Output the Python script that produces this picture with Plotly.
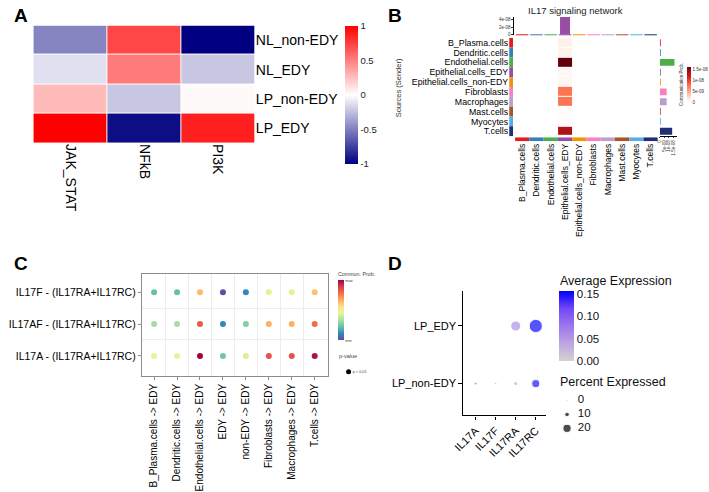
import plotly.graph_objects as go

W, H = 709, 492
def xd(a, b):
    return [a / W, b / W]
def yd(top, bot):
    return [1 - bot / H, 1 - top / H]
def px(x):
    return x / W
def py(y):
    return 1 - y / H

FONT = "Liberation Sans, Arial, Helvetica, sans-serif"

# ---------------- Panel A data ----------------
a_rows = ["NL_non-EDY", "NL_EDY", "LP_non-EDY", "LP_EDY"]
a_cols = ["JAK_STAT", "NFkB", "PI3K"]
a_nl_non_edy = [-0.48, 0.72, -1.0]
a_nl_edy = [-0.12, 0.52, -0.22]
a_lp_non_edy = [0.27, -0.22, 0.02]
a_lp_edy = [1.0, -0.95, 0.88]
a_ticks = [-1, -0.5, 0, 0.5, 1]

# ---------------- Panel B data ----------------
b_cells = ["B_Plasma.cells", "Dendritic.cells", "Endothelial.cells", "Epithelial.cells_EDY",
           "Epithelial.cells_non-EDY", "Fibroblasts", "Macrophages", "Mast.cells", "Myocytes", "T.cells"]
b_colors = ["#E41A1C", "#377EB8", "#4DAF4A", "#984EA3", "#F29403",
            "#F781BF", "#BC9DCC", "#A65628", "#54B0E4", "#222F75"]
b_target = "Epithelial.cells_EDY"
b_prob_to_target = [1.0e-09, 0.8e-09, 1.6e-08, 0.5e-09, 0.5e-09, 7.5e-09, 7.5e-09, 0.2e-09, 0.2e-09, 1.35e-08]
b_cbar_ticks = [0, 5e-09, 1e-08, 1.5e-08]
b_cbar_text = ["0", "5e-09", "1e-08", "1.5e-08"]
b_top_ticks = [0, 2e-08, 4e-08]
b_top_text = ["0", "2e-08", "4e-08"]

# ---------------- Panel C data ----------------
c_sources = ["B_Plasma.cells -> EDY", "Dendritic.cells -> EDY", "Endothelial.cells -> EDY", "EDY -> EDY",
             "non-EDY -> EDY", "Fibroblasts -> EDY", "Macrophages -> EDY", "T.cells -> EDY"]
c_pairs = ["IL17A - (IL17RA+IL17RC)", "IL17AF - (IL17RA+IL17RC)", "IL17F - (IL17RA+IL17RC)"]
c_il17a = [0.45, 0.45, 1.0, 0.24, 0.42, 0.84, 0.84, 0.97]
c_il17af = [0.33, 0.33, 0.82, 0.11, 0.27, 0.66, 0.66, 0.78]
c_il17f = [0.22, 0.22, 0.64, 0.0, 0.11, 0.47, 0.47, 0.62]

# ---------------- Panel D data ----------------
d_genes = ["IL17A", "IL17F", "IL17RA", "IL17RC"]
d_groups = ["LP_non-EDY", "LP_EDY"]
d_avg_non_edy = [0.075, 0.045, 0.035, 0.145]
d_avg_edy = [0.0, 0.0, 0.055, 0.152]
d_pct_non_edy = [5.5, 3.0, 8.0, 19.5]
d_pct_edy = [0.5, 0.5, 25.0, 34.0]
d_size_breaks = [0, 10, 20]
d_cbar_ticks = [0.0, 0.05, 0.10, 0.15]
d_cbar_text = ["0.00", "0.05", "0.10", "0.15"]

# ---------------- styles ----------------
spectral = ["#5E4FA2", "#3288BD", "#66C2A5", "#ABDDA4", "#E6F598",
            "#FEE08B", "#FDAE61", "#F46D43", "#D53E4F", "#9E0142"]
spectral_scale = [[i / (len(spectral) - 1), c] for i, c in enumerate(spectral)]
reds = [[0, "#FFFFFF"], [0.125, "#FEE0D2"], [0.25, "#FCBBA1"], [0.375, "#FC9272"], [0.5, "#FB6A4A"],
        [0.625, "#EF3B2C"], [0.75, "#CB181D"], [0.875, "#A50F15"], [1, "#67000D"]]
grey_blue = [[0, "#D3D3D3"], [0.25, "#BCA5E0"], [0.5, "#9D77EC"], [0.75, "#7248F6"], [1, "#0000FF"]]
def dsize(p):
    return 1 + 0.36 * p

fig = go.Figure()

# ===== Panel A =====
fig.add_trace(go.Heatmap(
    z=[a_nl_non_edy, a_nl_edy, a_lp_non_edy, a_lp_edy], x=a_cols, y=a_rows,
    zmin=-1, zmax=1, xgap=1, ygap=1,
    colorscale=[[0, "#000080"], [0.5, "#FFFFFF"], [1, "#FF0000"]],
    colorbar=dict(x=px(339), xanchor="left", y=py(95.5), yanchor="middle", len=139 / H,
                  thickness=13, xpad=0, ypad=0, outlinewidth=0, ticks="",
                  tickvals=a_ticks, ticktext=[str(t) for t in a_ticks],
                  tickfont=dict(size=9.5, color="#222", family=FONT)),
    xaxis="x", yaxis="y", hoverinfo="skip"))

# ===== Panel B =====
n = len(b_cells)
ti = b_cells.index(b_target)
b_z = [[(b_prob_to_target[r] if c == ti else None) for c in range(n)] for r in range(n)]
row_sums = [sum(v for v in row if v is not None) for row in b_z]
col_sums = [sum(b_z[r][c] for r in range(n) if b_z[r][c] is not None) for c in range(n)]

fig.add_trace(go.Heatmap(
    z=b_z, x=b_cells, y=b_cells, zmin=0, zmax=1.6e-08, colorscale=reds, ygap=1,
    colorbar=dict(x=px(686.5), xanchor="left", y=py(85.5), yanchor="middle", len=35 / H,
                  thickness=4, xpad=0, ypad=0, outlinewidth=0, ticks="",
                  tickvals=b_cbar_ticks, ticktext=b_cbar_text,
                  tickfont=dict(size=4.5, color="#333", family=FONT)),
    xaxis="x2", yaxis="y2", hoverinfo="skip"))
# top bars (column sums)
fig.add_trace(go.Bar(x=b_cells, y=col_sums, marker=dict(color=b_colors, line_width=0), width=0.7,
                     xaxis="x3", yaxis="y3", hoverinfo="skip"))
fig.add_trace(go.Scatter(x=b_cells, y=[0] * n, mode="markers", cliponaxis=False,
                         marker=dict(symbol="line-ew", size=9, line=dict(color=b_colors, width=1)),
                         xaxis="x3", yaxis="y3", hoverinfo="skip"))
# right bars (row sums)
fig.add_trace(go.Bar(y=b_cells, x=row_sums, orientation="h", marker=dict(color=b_colors, line_width=0),
                     width=0.7, xaxis="x4", yaxis="y4", hoverinfo="skip"))
# left colour strip
fig.add_trace(go.Bar(y=b_cells, x=[1] * n, orientation="h", marker=dict(color=b_colors, line_width=0),
                     width=1, xaxis="x5", yaxis="y5", hoverinfo="skip"))
# bottom colour strip
fig.add_trace(go.Bar(x=b_cells, y=[1] * n, marker=dict(color=b_colors, line_width=0),
                     width=1, xaxis="x6", yaxis="y6", hoverinfo="skip"))

# ===== Panel C =====
cx, cy, cv = [], [], []
for yi, vals in enumerate([c_il17a, c_il17af, c_il17f]):
    for xi, v in enumerate(vals):
        cx.append(xi)
        cy.append(yi)
        cv.append(v)
fig.add_trace(go.Scatter(
    x=cx, y=cy, mode="markers", cliponaxis=False,
    marker=dict(size=6, color=cv, cmin=0, cmax=1, colorscale=spectral_scale, showscale=True,
                colorbar=dict(x=px(332), xanchor="left", y=py(312), yanchor="middle", len=60 / H,
                              thickness=6, xpad=0, ypad=0, outlinewidth=0, ticks="",
                              tickvals=[0, 1], ticktext=["min", "max"],
                              tickfont=dict(size=4, color="#444", family=FONT))),
    xaxis="x7", yaxis="y7", hoverinfo="skip"))
# p-value legend
fig.add_trace(go.Scatter(x=[0], y=[0], mode="markers+text", text=["p < 0.01"], textposition="middle right",
                         textfont=dict(size=3.8, color="#444", family=FONT), cliponaxis=False,
                         marker=dict(size=5, color="black"), xaxis="x8", yaxis="y8", hoverinfo="skip"))

# ===== Panel D =====
dx, dy, dc, ds = [], [], [], []
for g, avgs, pcts in [(d_groups[0], d_avg_non_edy, d_pct_non_edy), (d_groups[1], d_avg_edy, d_pct_edy)]:
    for gene, a, p in zip(d_genes, avgs, pcts):
        dx.append(gene)
        dy.append(g)
        dc.append(a)
        ds.append(dsize(p))
fig.add_trace(go.Scatter(
    x=dx, y=dy, mode="markers", cliponaxis=False,
    marker=dict(size=ds, color=dc, cmin=0, cmax=0.157, colorscale=grey_blue, showscale=True,
                colorbar=dict(x=px(557), xanchor="left", y=py(328), yanchor="middle", len=70 / H,
                              thickness=15, xpad=0, ypad=0, outlinewidth=0, ticks="",
                              tickvals=d_cbar_ticks, ticktext=d_cbar_text,
                              tickfont=dict(size=11.5, color="#111", family=FONT))),
    xaxis="x9", yaxis="y9", hoverinfo="skip"))
# size legend
fig.add_trace(go.Scatter(x=[0.2] * len(d_size_breaks), y=list(range(len(d_size_breaks))), mode="markers",
                         cliponaxis=False, marker=dict(size=[dsize(b) for b in d_size_breaks], color="black"),
                         xaxis="x10", yaxis="y10", hoverinfo="skip"))
fig.add_trace(go.Scatter(x=[0.45] * len(d_size_breaks), y=list(range(len(d_size_breaks))), mode="text",
                         text=[str(b) for b in d_size_breaks], textposition="middle right", cliponaxis=False,
                         textfont=dict(size=11.5, color="#111", family=FONT),
                         xaxis="x10", yaxis="y10", hoverinfo="skip"))

hidden = dict(showgrid=False, zeroline=False, showticklabels=False, showline=False, ticks="")
cat_b = [-0.5, n - 0.5]
cat_b_rev = [n - 0.5, -0.5]

layout = dict(
    width=W, height=H, margin=dict(l=0, r=0, t=0, b=0),
    paper_bgcolor="white", plot_bgcolor="rgba(0,0,0,0)", showlegend=False,
    font=dict(family=FONT, color="black"),
    # A
    xaxis=dict(domain=xd(22.7, 247.7), anchor="y", showgrid=False, zeroline=False, ticks="",
               tickangle=90, tickfont=dict(size=14), range=[-0.5, 2.5]),
    yaxis=dict(domain=yd(25.7, 144), anchor="x", side="right", showgrid=False, zeroline=False, ticks="",
               tickfont=dict(size=14), range=[3.5, -0.5]),
    # B main
    xaxis2=dict(domain=xd(512, 657), anchor="y2", range=cat_b, **hidden),
    yaxis2=dict(domain=yd(38, 137), anchor="x2", range=cat_b_rev, **hidden),
    # B top bars
    xaxis3=dict(domain=xd(512, 657), anchor="y3", range=cat_b, **hidden),
    yaxis3=dict(domain=yd(17, 35), anchor="free", position=px(509.5), range=[0, 4.8e-08],
                showgrid=False, zeroline=False, showline=True, linewidth=0.6, linecolor="black",
                ticks="outside", ticklen=1.5, tickwidth=0.6, tickvals=b_top_ticks, ticktext=b_top_text,
                tickfont=dict(size=4.5, color="#333")),
    # B right bars
    xaxis4=dict(domain=xd(659, 677), anchor="y4", range=[0, 1.93e-08], showgrid=False, zeroline=False,
                showline=True, linewidth=0.6, linecolor="black", ticks="outside", ticklen=1.5, tickwidth=0.6,
                tickvals=b_cbar_ticks, ticktext=b_cbar_text, tickangle=-90, tickfont=dict(size=4.5, color="#333")),
    yaxis4=dict(domain=yd(38, 137), anchor="x4", range=cat_b_rev, **hidden),
    # B left strip
    xaxis5=dict(domain=xd(506, 510), anchor="y5", range=[0, 1], **hidden),
    yaxis5=dict(domain=yd(38, 137), anchor="x5", range=cat_b_rev, showgrid=False, zeroline=False, ticks="",
                tickmode="array", tickvals=b_cells, ticktext=b_cells, tickfont=dict(size=8.8)),
    # B bottom strip
    xaxis6=dict(domain=xd(512, 657), anchor="y6", range=cat_b, showgrid=False, zeroline=False, ticks="",
                tickmode="array", tickvals=b_cells, ticktext=b_cells,
                tickangle=-90, tickfont=dict(size=8.5)),
    yaxis6=dict(domain=yd(138, 142), anchor="x6", range=[0, 1], **hidden),
    # C
    xaxis7=dict(domain=xd(133, 322), anchor="y7", range=[-0.53, 7.58], showgrid=False, zeroline=False,
                showline=True, mirror=True, linecolor="#8c8c8c", linewidth=1.3,
                ticks="outside", ticklen=3, tickcolor="#8c8c8c", tickwidth=0.8,
                tickvals=list(range(len(c_sources))), ticktext=c_sources, tickangle=-90,
                tickfont=dict(size=10),
                minor=dict(tickvals=[i + 0.5 for i in range(len(c_sources) - 1)], showgrid=True,
                           gridcolor="#ececec", gridwidth=0.6, ticks="")),
    yaxis7=dict(domain=yd(276, 378), anchor="x7", range=[-0.62, 2.56], showgrid=False, zeroline=False,
                showline=True, mirror=True, linecolor="#8c8c8c", linewidth=1.3,
                ticks="outside", ticklen=3, tickcolor="#8c8c8c", tickwidth=0.8,
                tickvals=list(range(len(c_pairs))), ticktext=c_pairs, tickfont=dict(size=10.5),
                minor=dict(tickvals=[i + 0.5 for i in range(len(c_pairs) - 1)], showgrid=True,
                           gridcolor="#ececec", gridwidth=0.6, ticks="")),
    xaxis8=dict(domain=xd(340, 372), anchor="y8", range=[-0.3, 3], **hidden),
    yaxis8=dict(domain=yd(368, 380), anchor="x8", range=[-1, 1], **hidden),
    # D
    xaxis9=dict(domain=xd(459, 543), anchor="y9", range=[-0.634, 3.49], showgrid=False, zeroline=False,
                showline=True, linecolor="black", linewidth=1.1, ticks="outside", ticklen=3.5,
                tickcolor="black", tickwidth=1, tickangle=-45, tickfont=dict(size=11),
                categoryorder="array", categoryarray=d_genes),
    yaxis9=dict(domain=yd(293, 418), anchor="x9", range=[-0.552, 1.603], showgrid=False, zeroline=False,
                showline=True, linecolor="black", linewidth=1.1, ticks="outside", ticklen=3.5,
                tickcolor="black", tickwidth=1, tickfont=dict(size=11),
                categoryorder="array", categoryarray=d_groups),
    xaxis10=dict(domain=xd(556, 600), anchor="y10", range=[0, 1], **hidden),
    yaxis10=dict(domain=yd(396, 438), anchor="x10", range=[len(d_size_breaks) - 0.5, -0.5], **hidden),
)
fig.update_layout(**layout)

ann = []
def label(text, x, y, size, bold=False, anchor="left", valign="top", angle=0, color="black"):
    ann.append(dict(text=("<b>%s</b>" % text) if bold else text, x=px(x), y=py(y), xref="paper", yref="paper",
                    xanchor=anchor, yanchor=valign, showarrow=False, textangle=angle,
                    font=dict(size=size, color=color, family=FONT)))
label("A", 1, 3, 19, bold=True)
label("B", 381, 3, 19, bold=True)
label("C", 1, 253, 19, bold=True)
label("D", 381, 253, 19, bold=True)
label("IL17 signaling network", 573, 11, 9.5, anchor="center", valign="middle", color="#222")
label("Sources (Sender)", 394, 88, 7.5, anchor="center", valign="middle", angle=-90, color="#333")
label("Communication Prob.", 681, 85, 4.5, anchor="center", valign="middle", angle=-90, color="#333")
label("Commun. Prob.", 330, 275.5, 5.3, valign="middle", color="#444")
label("p-value", 331, 358, 5.5, valign="middle", color="#444")
label("Average Expression", 556, 283, 12.5, valign="middle", color="#111")
label("Percent Expressed", 556, 384, 12.5, valign="middle", color="#111")
fig.update_layout(annotations=ann)

fig.write_html("out.html")
